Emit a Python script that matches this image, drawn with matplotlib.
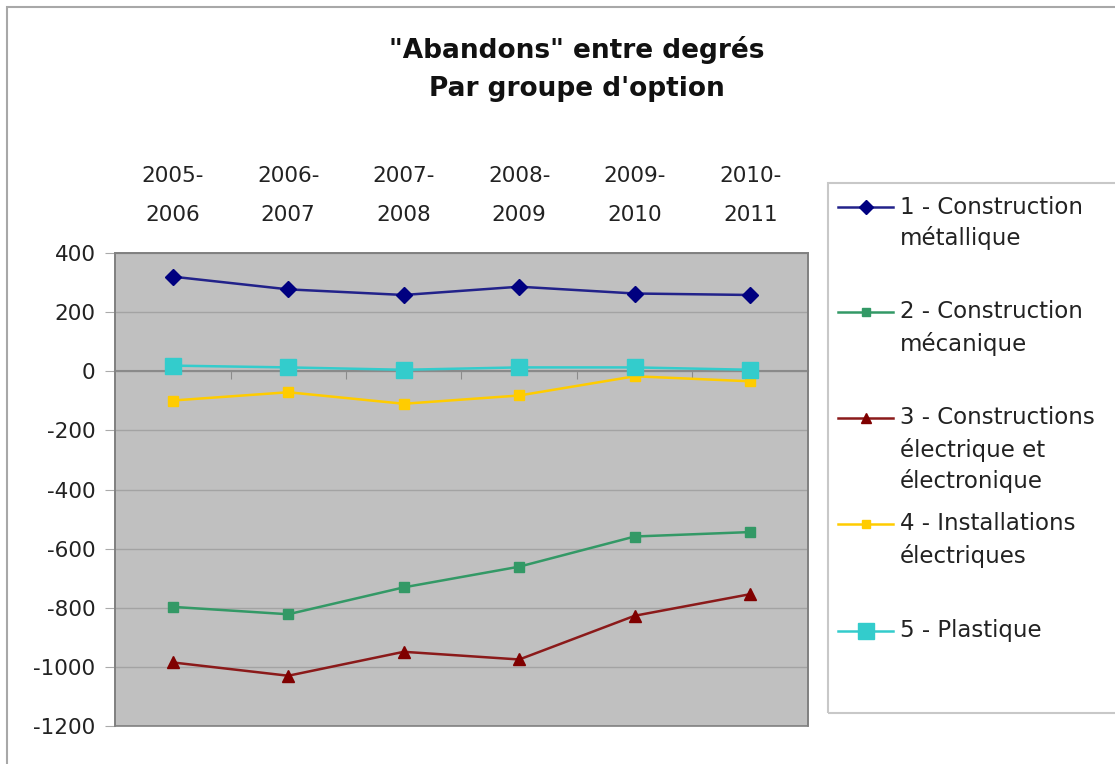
import matplotlib
matplotlib.use("Agg")
import matplotlib.pyplot as plt
from matplotlib.lines import Line2D
from matplotlib.patches import Rectangle
from matplotlib.ticker import FixedLocator, FuncFormatter

plt.rcParams['font.family'] = ['DejaVu Sans']
plt.rcParams['axes.unicode_minus'] = False

# ---- data ----
categories = ["2005-\n2006", "2006-\n2007", "2007-\n2008", "2008-\n2009", "2009-\n2010", "2010-\n2011"]
s1_metallique = [320, 277, 258, 286, 263, 258]
s2_mecanique = [-797, -822, -731, -661, -559, -544]
s3_electrique = [-985, -1030, -949, -975, -827, -754]
s4_installations = [-99, -71, -110, -82, -17, -34]
s5_plastique = [19, 13, 5, 13, 13, 5]
labels = ["1 - Construction\nmétallique",
          "2 - Construction\nmécanique",
          "3 - Constructions\nélectrique et\nélectronique",
          "4 - Installations\nélectriques",
          "5 - Plastique"]
y_ticks = [400, 200, 0, -200, -400, -600, -800, -1000, -1200]
title = "\"Abandons\" entre degrés\nPar groupe d'option"

# ---- styles ----
styles = [
    dict(color="#22228a", marker="D", ms=8.5, mfc="#000080", mec="#000080", lw=1.8),
    dict(color="#339966", marker="s", ms=7, mfc="#339966", mec="#339966", lw=1.8),
    dict(color="#8b1a1a", marker="^", ms=9, mfc="#800000", mec="#800000", lw=1.8),
    dict(color="#FFCC00", marker="s", ms=7, mfc="#FFCC00", mec="#FFCC00", lw=1.8),
    dict(color="#33CCCC", marker="s", ms=12, mfc="#33CCCC", mec="#33CCCC", lw=1.8),
]
series = [s1_metallique, s2_mecanique, s3_electrique, s4_installations, s5_plastique]
txt_color = "#222222"

W, H = 1115, 764
fig = plt.figure(figsize=(W / 100, H / 100), dpi=100)
fig.patch.set_facecolor("white")

# outer chart frame (top & left visible)
fig.add_artist(Rectangle((7 / W, -0.1), 1.2, (1 - 7 / H) + 0.1, transform=fig.transFigure,
                         fill=False, edgecolor="#a8a8a8", lw=1.5))

ax = fig.add_axes([115 / W, 1 - 726 / H, 693 / W, 473 / H])
ax.set_facecolor("#C0C0C0")
x = list(range(len(categories)))
for i in range(len(series)):
    ax.plot(x, series[i], zorder=3, clip_on=False, **styles[i])

ax.set_xlim(-0.5, len(categories) - 0.5)
ax.set_ylim(-1200, 400)
ax.set_yticks(y_ticks)
ax.yaxis.set_major_formatter(FuncFormatter(lambda v, p: f"{int(v)}"))
ax.grid(axis="y", color="#a3a3a3", lw=1.0, zorder=1)
ax.set_axisbelow(True)
ax.tick_params(axis="y", length=7, color="#aaaaaa", labelsize=15.5, labelcolor=txt_color, pad=7)

for s in ["top", "right", "left"]:
    ax.spines[s].set_color("#808080")
    ax.spines[s].set_linewidth(1.2)
ax.spines["bottom"].set_position(("data", 0))
ax.spines["bottom"].set_color("#8a8a8a")
ax.spines["bottom"].set_linewidth(1.5)
ax.spines["bottom"].set_zorder(2)
ax.add_patch(Rectangle((0, 0), 1, 1, transform=ax.transAxes, fill=False,
                       edgecolor="#808080", lw=1.2, zorder=2, clip_on=False))
ax.xaxis.set_major_locator(FixedLocator([i + 0.5 for i in range(len(categories) - 1)]))
ax.tick_params(axis="x", direction="out", length=6, color="#8a8a8a", labelbottom=False)

top = ax.secondary_xaxis("top")
top.set_xticks(x)
top.set_xticklabels(categories)
top.tick_params(axis="x", length=0, labelsize=15.5, labelcolor=txt_color, pad=20)
for t in top.get_xticklabels():
    t.set_linespacing(2.18)
top.spines["top"].set_visible(False)

fig.text(0.517, 1 - 69 / H, title, ha="center", va="center", fontsize=19,
         fontweight="bold", color="#111111", linespacing=1.58)

# legend box
fig.add_artist(Rectangle((828 / W, 1 - 713 / H), 0.5, (713 - 183) / H, transform=fig.transFigure,
                         fill=False, edgecolor="#c8c8c8", lw=1.5))
entry_y = [207, 312, 418, 524, 631]
for i, lab in enumerate(labels):
    yy = 1 - entry_y[i] / H
    st = styles[i]
    fig.add_artist(Line2D([838 / W, 866 / W, 893 / W], [yy, yy, yy], transform=fig.transFigure,
                          color=st["color"], lw=st["lw"], marker=st["marker"], markevery=[1],
                          ms=st["ms"] * (0.85 if i != 4 else 1.0), mfc=st["mfc"], mec=st["mec"]))
    for j, line in enumerate(lab.split("\n")):
        fig.text(900 / W, 1 - (entry_y[i] + 31.5 * j) / H, line, ha="left", va="center",
                 fontsize=16.5, color=txt_color)

fig.savefig("out.png", dpi=100)
